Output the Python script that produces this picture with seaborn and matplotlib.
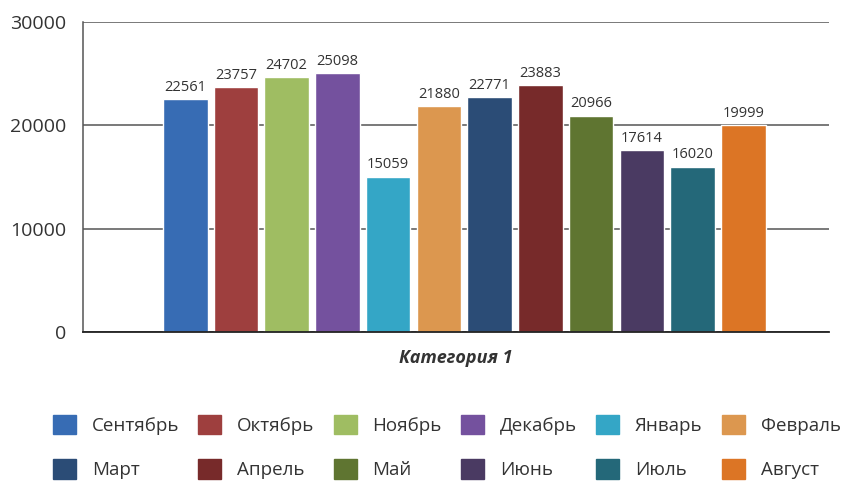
import matplotlib
matplotlib.use("Agg")
import matplotlib.pyplot as plt
import seaborn as sns
import pandas as pd

months = ["Сентябрь", "Октябрь", "Ноябрь", "Декабрь", "Январь", "Февраль",
          "Март", "Апрель", "Май", "Июнь", "Июль", "Август"]
values = [22561, 23757, 24702, 25098, 15059, 21880,
          22771, 23883, 20966, 17614, 16020, 19999]
colors = ["#376CB4", "#9E3F3E", "#9FBD62", "#74519E", "#34A6C6", "#DC974F",
          "#2B4C76", "#772A2A", "#5F7531", "#4A3A62", "#246879", "#DC7525"]
category = "Категория 1"
yticks = [0, 10000, 20000, 30000]

df = pd.DataFrame({"cat": [category] * len(months), "month": months, "value": values})

sns.set_style("white")
plt.rcParams["font.family"] = ["Open Sans", "DejaVu Sans"]
text_color = "#333333"

fig = plt.figure(figsize=(8.44, 4.82), dpi=100)
ax = fig.add_axes([0.0983, 0.311, 0.8837, 0.643])

sns.barplot(data=df, x="cat", y="value", hue="month", hue_order=months,
            palette=colors, width=0.8, gap=0.12, saturation=1,
            legend=False, ax=ax)

for cont in ax.containers:
    ax.bar_label(cont, fmt="%d", padding=3, fontsize=10.5, color=text_color)

ax.set_xlim(-0.501, 0.479)
ax.set_ylim(0, 30000)
ax.set_yticks(yticks)
ax.set_yticklabels([str(t) for t in yticks], fontsize=14, color=text_color)
ax.tick_params(axis="y", length=0, pad=12)
ax.set_xticks([])
ax.set_xlabel(category, fontsize=13, fontweight="bold", fontstyle="italic",
              color=text_color, labelpad=12)
ax.set_ylabel("")

ax.yaxis.grid(True, color="#555555", linewidth=1.1)
ax.set_axisbelow(True)
for side in ["top", "right"]:
    ax.spines[side].set_visible(False)
ax.spines["left"].set_color("#555555")
ax.spines["left"].set_linewidth(1.1)
ax.spines["bottom"].set_color("#222222")
ax.spines["bottom"].set_linewidth(1.3)

# legend fills column by column, so reorder to read row by row
order = []
for i in range(6):
    order += [i, i + 6]
handles = [plt.Rectangle((0, 0), 1, 1, color=colors[i]) for i in order]
labels = [months[i] for i in order]
fig.legend(handles, labels, ncol=6, loc="center left",
           bbox_to_anchor=(0.0628, 0.0726), bbox_transform=fig.transFigure,
           frameon=False, fontsize=13.5, labelcolor=text_color,
           handlelength=1.22, handleheight=1.22, handletextpad=0.85,
           columnspacing=1.02, labelspacing=1.3, borderaxespad=0, borderpad=0)

fig.savefig("out.png", dpi=100)
